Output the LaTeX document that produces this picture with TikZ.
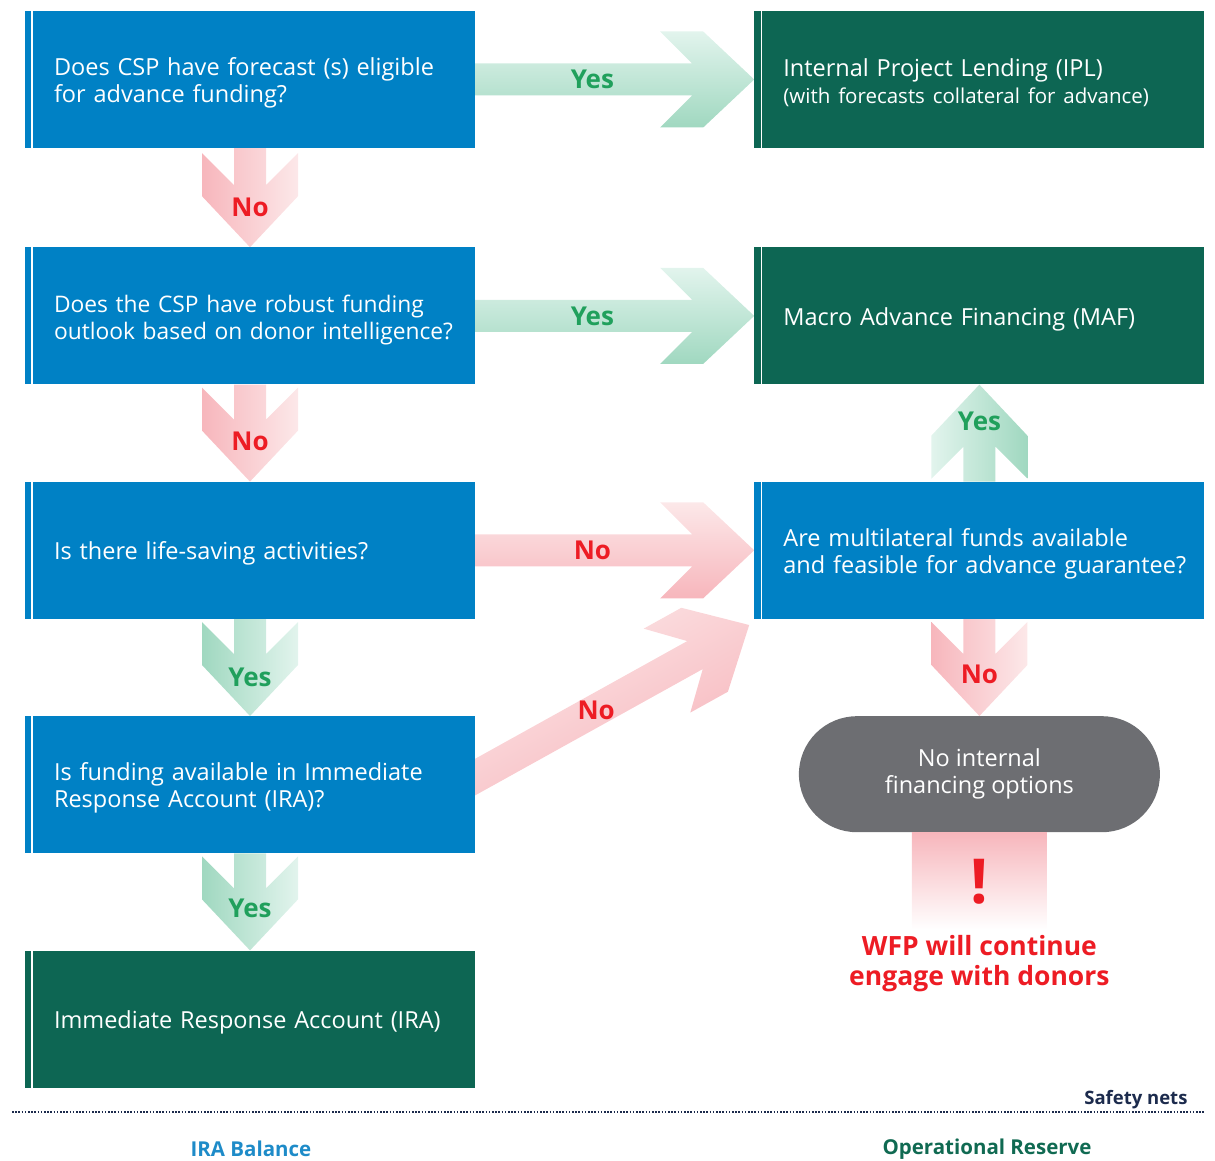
\documentclass[tikz,border=0pt]{standalone}
\usepackage{fontspec}
\setmainfont{Open Sans}
\usetikzlibrary{calc,positioning,backgrounds}

\definecolor{boxblue}{RGB}{0,129,197}
\definecolor{boxgreen}{RGB}{13,102,83}
\definecolor{pillgray}{RGB}{109,110,114}
\definecolor{nored}{RGB}{237,28,36}
\definecolor{yesgreen}{RGB}{32,160,92}
\definecolor{nolight}{RGB}{252,232,233}
\definecolor{nodark}{RGB}{247,182,188}
\definecolor{yeslight}{RGB}{226,244,237}
\definecolor{yesdark}{RGB}{160,216,192}
\definecolor{navy}{RGB}{28,43,77}
\definecolor{irablue}{RGB}{30,139,200}
\definecolor{reservegreen}{RGB}{16,106,82}

\tikzset{
    stepbox/.style={text width=392pt,minimum height=137pt,inner xsep=29pt,inner ysep=0pt,
        align=left,text=white,font=\fontsize{23.5}{27}\selectfont,
        execute at begin node={\rule{0pt}{25pt}},
        path picture={\draw [white,line width=1.3pt]
            ([xshift=7pt]path picture bounding box.north west) --
            ([xshift=7pt]path picture bounding box.south west);}},
    question/.style={stepbox,fill=boxblue},
    outcome/.style={stepbox,fill=boxgreen},
    pill/.style={fill=pillgray,text=white,rounded corners=58pt,minimum width=361pt,
        minimum height=116pt,align=center,font=\fontsize{23.5}{27}\selectfont},
    yes arrow/.style={top color=yeslight,bottom color=yesdark},
    no arrow/.style={top color=nolight,bottom color=nodark},
    yes label/.style={text=yesgreen,inner sep=0pt,font=\fontsize{26}{26}\selectfont\bfseries},
    no label/.style={text=nored,inner sep=0pt,font=\fontsize{26}{26}\selectfont\bfseries},
}

% fat chevron arrow: start, tip, yes/no, label pos, label, label name
\newcommand{\fatarrow}[6]{%
    \path let \p1=(#1), \p2=(#2) in
        \pgfextra{%
            \pgfmathsetmacro\fatang{atan2(\y2-\y1,\x2-\x1)}%
            \pgfmathsetmacro\fatlen{veclen(\x2-\x1,\y2-\y1)}%
            \xdef\fatang{\fatang}\xdef\fatlen{\fatlen}};
    \shade [#3 arrow,shading angle=\fatang,shift={(#1)},rotate=\fatang]
        (0pt,-16pt) -- (\fatlen pt-62pt,-16pt) -- (\fatlen pt-94pt,-48pt) --
        (\fatlen pt-51pt,-48pt) -- (\fatlen pt,0pt) -- (\fatlen pt-51pt,48pt) --
        (\fatlen pt-94pt,48pt) -- (\fatlen pt-62pt,16pt) -- (0pt,16pt) -- cycle;
    \path (#1) -- (#2) node [#3 label,pos=#4] (#6) {#5};
}

\begin{document}
\begin{tikzpicture}[x=1pt,y=-1pt]
    \useasboundingbox (0,0) rectangle (1215,1161);

    % left column
    \node [question] (q1) at (250,79.5) {Does CSP have forecast (s) eligible\\for advance funding?};
    \node [question,below=99pt of q1,font=\fontsize{22.8}{27}\selectfont] (q2)
        {Does the CSP have robust funding\\\mbox{outlook based on donor intelligence?}};
    \node [question,below=97pt of q2] (q3) {Is there life-saving activities?};
    \node [question,below=97pt of q3] (q4) {Is funding available in Immediate\\Response Account (IRA)?};
    \node [outcome,below=97pt of q4] (ira) {Immediate Response Account (IRA)};

    % right column
    \node [outcome,right=279pt of q1] (ipl) {Internal Project Lending (IPL)\\
        {\fontsize{20.5}{27}\selectfont (with forecasts collateral for advance)}};
    \node [outcome,right=279pt of q2] (maf) {Macro Advance Financing (MAF)};
    \node [question,right=279pt of q3] (multi)
        {Are multilateral funds available\\\mbox{and feasible for advance guarantee?}};
    \node [pill,below=97pt of multi] (pill) {No internal\\financing options};

    % fading bar under the pill
    \shade [top color=nodark,bottom color=white]
        ($(pill.south)+(-67.5,0)$) rectangle ($(pill.south)+(67.5,97)$);
    \node [text=nored,inner sep=0pt,font=\fontsize{62}{62}\selectfont\bfseries] (bang)
        at ($(pill.south)+(0,49)$) {!};
    \node [text=nored,align=center,inner sep=0pt,font=\fontsize{26.5}{30}\selectfont\bfseries] (engage)
        at ($(pill.south)+(0,131)$) {WFP will continue\\engage with donors};

    % arrows, behind the boxes
    \coordinate (diagstart) at ($(q4.east)+(-12,-1)$);
    \coordinate (diagtip) at ($(multi.south west)+(-5,6)$);
    \begin{pgfonlayer}{background}
        \fatarrow{q1.east}{ipl.west}{yes}{0.42}{Yes}{yes1}
        \fatarrow{q2.east}{maf.west}{yes}{0.42}{Yes}{yes2}
        \fatarrow{q3.east}{multi.west}{no}{0.42}{No}{no3}
        \fatarrow{q1.south}{q2.north}{no}{0.6}{No}{no1}
        \fatarrow{q2.south}{q3.north}{no}{0.59}{No}{no2}
        \fatarrow{q3.south}{q4.north}{yes}{0.6}{Yes}{yes3}
        \fatarrow{q4.south}{ira.north}{yes}{0.57}{Yes}{yes4}
        \fatarrow{multi.north}{maf.south}{yes}{0.62}{Yes}{yes5}
        \fatarrow{multi.south}{pill.north}{no}{0.57}{No}{no5}
        \fatarrow{diagstart}{diagtip}{no}{0.465}{No}{no4}
    \end{pgfonlayer}

    % footer
    \draw [navy,line width=1.6pt,dash pattern=on 1.6pt off 1.6pt] (12,1112) -- (1205,1112);
    \node [anchor=east,text=navy,font=\fontsize{18.5}{18.5}\selectfont\bfseries] (safety) at (1191,1100) {Safety nets};
    \node [text=irablue,font=\fontsize{20.5}{20.5}\selectfont\bfseries] (irabalance) at (251,1149) {IRA Balance};
    \node [text=reservegreen,font=\fontsize{20.5}{20.5}\selectfont\bfseries] (reserve) at (987,1149) {Operational Reserve};
\end{tikzpicture}
\end{document}
